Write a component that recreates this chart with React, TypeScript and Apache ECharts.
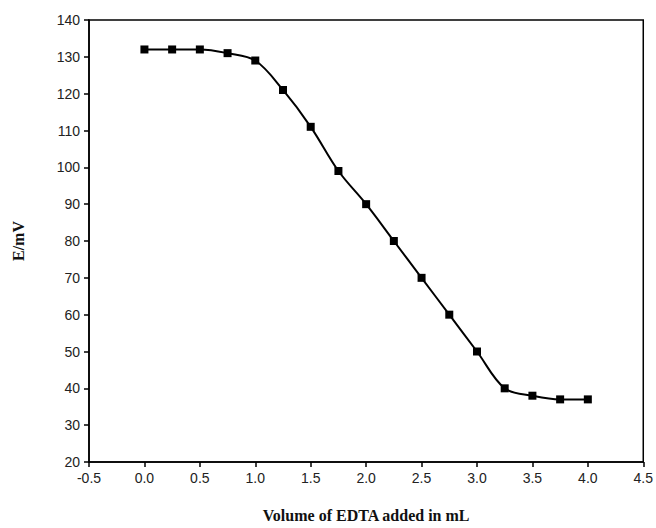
import React, { useEffect, useRef } from "react";
import * as echarts from "echarts";

const volumes = [0, 0.25, 0.5, 0.75, 1.0, 1.25, 1.5, 1.75, 2.0, 2.25, 2.5, 2.75, 3.0, 3.25, 3.5, 3.75, 4.0];
const potentials = [132, 132, 132, 131, 129, 121, 111, 99, 90, 80, 70, 60, 50, 40, 38, 37, 37];

const xTitle = "Volume of EDTA added in mL";
const yTitle = "E/mV";

export default function App() {
  const ref = useRef<HTMLDivElement>(null);
  useEffect(() => {
    if (!ref.current) return;
    const chart = echarts.init(ref.current, undefined, { renderer: "svg" });
    const labelStyle = { color: "#222", fontFamily: "Liberation Sans, Arial, sans-serif", fontSize: 14 };
    const nameStyle = { color: "#111", fontFamily: "Liberation Serif, Times New Roman, serif", fontSize: 16, fontWeight: "bold" as const };
    chart.setOption({
      animation: false,
      backgroundColor: "#fff",
      grid: { left: 89, right: 12, top: 20, bottom: 65, show: true, borderColor: "#000", borderWidth: 1.5, backgroundColor: "transparent" },
      xAxis: {
        type: "value",
        min: -0.5,
        max: 4.5,
        interval: 0.5,
        name: xTitle,
        nameLocation: "middle",
        nameGap: 45,
        nameTextStyle: nameStyle,
        axisLine: { show: true, onZero: false, lineStyle: { color: "#000", width: 1.5 } },
        axisTick: { show: true, length: 5, lineStyle: { color: "#000", width: 1.5 } },
        axisLabel: { ...labelStyle, margin: 9, formatter: (v: number) => v.toFixed(1) },
        splitLine: { show: false },
      },
      yAxis: {
        type: "value",
        min: 20,
        max: 140,
        interval: 10,
        name: yTitle,
        nameLocation: "middle",
        nameGap: 63,
        nameTextStyle: nameStyle,
        axisLine: { show: true, onZero: false, lineStyle: { color: "#000", width: 1.5 } },
        axisTick: { show: true, length: 5, lineStyle: { color: "#000", width: 1.5 } },
        axisLabel: { ...labelStyle, margin: 9 },
        splitLine: { show: false },
      },
      series: [
        {
          type: "line",
          data: volumes.map((v, i) => [v, potentials[i]]),
          smooth: 0.35,
          symbol: "rect",
          symbolSize: 8,
          itemStyle: { color: "#000" },
          lineStyle: { color: "#000", width: 2 },
        },
      ],
    });
    return () => chart.dispose();
  }, []);
  return <div ref={ref} style={{ width: 656, height: 528, position: "absolute", left: 0, top: 0 }} />;
}
